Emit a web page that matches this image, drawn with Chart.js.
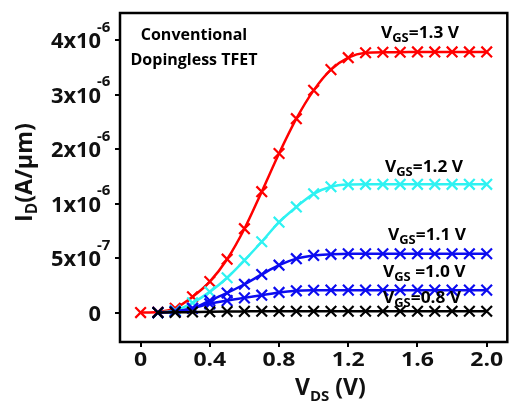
<!DOCTYPE html>
<html lang="en">
<head>
    <meta charset="UTF-8">
    <title>Dopingless TFET output characteristics</title>
    <script src="https://cdn.jsdelivr.net/npm/chart.js"></script>
    <style>
        body { margin: 0; background: #fff; }
        #idvd { display: block; }
    </style>
</head>
<body>
    <canvas id="idvd" width="517" height="403"></canvas>

    <script>
        // drain voltage (V), one marker every 0.1 V
        const vds = [0, 0.1, 0.2, 0.3, 0.4, 0.5, 0.6, 0.7, 0.8, 0.9, 1.0,
                     1.1, 1.2, 1.3, 1.4, 1.5, 1.6, 1.7, 1.8, 1.9, 2.0];

        // drain current (A/um) for each gate voltage
        const id13 = [0, 5e-9, 4e-8, 1.45e-7, 2.85e-7, 4.9e-7, 7.7e-7, 1.22e-6, 1.92e-6, 2.56e-6, 3.08e-6,
                      3.46e-6, 3.68e-6, 3.77e-6, 3.78e-6, 3.78e-6, 3.785e-6, 3.785e-6, 3.785e-6, 3.785e-6, 3.785e-6];
        const id12 = [null, 0, 2e-8, 9e-8, 1.9e-7, 3.2e-7, 4.8e-7, 6.5e-7, 8.3e-7, 9.7e-7, 1.18e-6,
                      1.31e-6, 1.35e-6, 1.355e-6, 1.355e-6, 1.355e-6, 1.355e-6, 1.355e-6, 1.355e-6, 1.355e-6, 1.355e-6];
        const id11 = [null, 0, 1e-8, 4e-8, 1.1e-7, 1.8e-7, 2.6e-7, 3.5e-7, 4.35e-7, 4.95e-7, 5.25e-7,
                      5.35e-7, 5.4e-7, 5.4e-7, 5.4e-7, 5.4e-7, 5.4e-7, 5.4e-7, 5.4e-7, 5.4e-7, 5.4e-7];
        const id10 = [null, 0, 1e-8, 4e-8, 8e-8, 1.1e-7, 1.35e-7, 1.6e-7, 1.85e-7, 2e-7, 2.05e-7,
                      2.06e-7, 2.06e-7, 2.06e-7, 2.06e-7, 2.06e-7, 2.06e-7, 2.06e-7, 2.06e-7, 2.06e-7, 2.06e-7];
        const id08 = [null, 0, 2e-9, 5e-9, 8e-9, 1e-8, 1.1e-8, 1.2e-8, 1.2e-8, 1.2e-8, 1.2e-8,
                      1.2e-8, 1.2e-8, 1.2e-8, 1.2e-8, 1.2e-8, 1.2e-8, 1.2e-8, 1.2e-8, 1.2e-8, 1.2e-8];

        const vgsLabels = ['1.3', '1.2', '1.1', '1.0', '0.8'];
        const seriesColors = ['#ff0000', '#2ef2f2', '#0c0cf0', '#0c0cf0', '#000000'];

        // axis ticks
        const xTicks = [0, 0.4, 0.8, 1.2, 1.6, 2.0];
        const xTickText = ['0', '0.4', '0.8', '1.2', '1.6', '2.0'];
        const yTicks = [0, 5e-7, 1e-6, 2e-6, 3e-6, 4e-6];
        const yTickMant = ['0', '5x10', '1x10', '2x10', '3x10', '4x10'];
        const yTickExp = ['', '-7', '-6', '-6', '-6', '-6'];

        // the y axis is broken: 0..1e-6 is drawn twice as tall as the rest
        function toAxis(i) {
            if (i === null) return null;
            return i <= 1e-6 ? i / 5e-7 : 2 + (i - 1e-6) / 1e-6;
        }

        function makeSeries(ids) {
            return vds.map((v, k) => ({ x: v, y: toAxis(ids[k]) }))
                      .filter(p => p.y !== null);
        }

        const allSeries = [id13, id12, id11, id10, id08];
        const datasets = allSeries.map((ids, k) => ({
            label: 'VGS=' + vgsLabels[k] + ' V',
            data: makeSeries(ids),
            borderColor: seriesColors[k],
            backgroundColor: seriesColors[k],
            borderWidth: 2.5,
            pointStyle: 'crossRot',
            pointRadius: 7.5,
            pointBorderWidth: 2.2,
            cubicInterpolationMode: 'monotone',
            fill: false,
        })).reverse(); // black on top, red underneath

        const FONT = '"Open Sans", Lato, sans-serif';

        // draw text pieces one after another, stretched sideways by sx
        function drawRun(ctx, parts, x, y, sx) {
            ctx.save();
            ctx.translate(x, y);
            ctx.scale(sx, 1);
            let cx = 0;
            parts.forEach(p => {
                ctx.font = 'bold ' + p.size + 'px ' + FONT;
                ctx.fillText(p.t, cx, p.dy || 0);
                cx += ctx.measureText(p.t).width;
            });
            ctx.restore();
        }

        const labelsPlugin = {
            id: 'labels',
            afterDraw(chart) {
                const ctx = chart.ctx;
                const area = chart.chartArea;
                const xs = chart.scales.x;
                const ys = chart.scales.y;

                // frame round the plot
                ctx.save();
                ctx.strokeStyle = '#000';
                ctx.lineWidth = 2.5;
                ctx.strokeRect(area.left, area.top, area.right - area.left, area.bottom - area.top);

                ctx.fillStyle = '#111';
                ctx.textBaseline = 'alphabetic';

                // y tick labels with exponents
                yTicks.forEach((v, k) => {
                    const py = ys.getPixelForValue(toAxis(v));
                    ctx.save();
                    ctx.font = 'bold 21px ' + FONT;
                    ctx.textAlign = 'right';
                    ctx.translate(101, py + 8);
                    ctx.scale(1.04, 1);
                    ctx.fillText(yTickMant[k], 0, 0);
                    ctx.restore();
                    if (yTickExp[k]) {
                        ctx.font = 'bold 15px ' + FONT;
                        ctx.textAlign = 'left';
                        ctx.fillText(yTickExp[k], 97, py - 8.5);
                    }
                });

                // x tick labels
                xTicks.forEach((v, k) => {
                    const px = xs.getPixelForValue(v);
                    ctx.save();
                    ctx.font = 'bold 20px ' + FONT;
                    ctx.textAlign = 'center';
                    ctx.translate(px, 366);
                    ctx.scale(1.15, 1);
                    ctx.fillText(xTickText[k], 0, 0);
                    ctx.restore();
                });

                ctx.textAlign = 'left';
                // x title
                drawRun(ctx, [
                    { t: 'V', size: 23 },
                    { t: 'DS', size: 15, dy: 6 },
                    { t: ' (V)', size: 23 },
                ], 295, 395, 1);

                // y title, rotated
                ctx.save();
                ctx.translate(32, 222);
                ctx.rotate(-Math.PI / 2);
                drawRun(ctx, [
                    { t: 'I', size: 24 },
                    { t: 'D', size: 16, dy: 5 },
                    { t: '(A/\u00b5m)', size: 24 },
                ], 0, 0, 0.97);
                ctx.restore();

                // device note
                ctx.fillStyle = '#000';
                ctx.textAlign = 'center';
                ctx.font = 'bold 16px ' + FONT;
                ctx.fillText('Conventional', 194, 40);
                ctx.fillText('Dopingless TFET', 194, 65);
                ctx.textAlign = 'left';

                // gate voltage labels next to the curves
                const spots = [[381, 38, '=1.3 V'], [385, 172, '=1.2 V'], [388, 240, '=1.1 V'],
                               [383, 277, ' =1.0 V'], [383, 303, '=0.8 V']];
                spots.forEach(s => {
                    drawRun(ctx, [
                        { t: 'V', size: 16 },
                        { t: 'GS', size: 12, dy: 4 },
                        { t: s[2], size: 16 },
                    ], s[0], s[1], 1.08);
                });
                ctx.restore();
            }
        };

        const ctx = document.getElementById('idvd').getContext('2d');
        new Chart(ctx, {
            type: 'line',
            data: { datasets: datasets },
            options: {
                responsive: false,
                animation: false,
                layout: { padding: { top: 13, right: 1, left: 0, bottom: 0 } },
                plugins: {
                    legend: { display: false },
                    tooltip: { enabled: false },
                },
                scales: {
                    x: {
                        type: 'linear',
                        min: -0.119,
                        max: 2.119,
                        afterBuildTicks: s => { s.ticks = xTicks.map(v => ({ value: v })); },
                        afterFit: s => { s.height = 61; },
                        ticks: { display: false },
                        border: { display: false },
                        grid: { drawOnChartArea: false, drawTicks: true, tickLength: 5, color: '#000', lineWidth: 2 },
                    },
                    y: {
                        type: 'linear',
                        min: -0.54,
                        max: 5.5,
                        afterBuildTicks: s => { s.ticks = yTicks.map(v => ({ value: toAxis(v) })); },
                        afterFit: s => { s.width = 120; },
                        ticks: { display: false },
                        border: { display: false },
                        grid: { drawOnChartArea: false, drawTicks: true, tickLength: 5, color: '#000', lineWidth: 2 },
                    },
                },
            },
            plugins: [labelsPlugin],
        });
    </script>
</body>
</html>
